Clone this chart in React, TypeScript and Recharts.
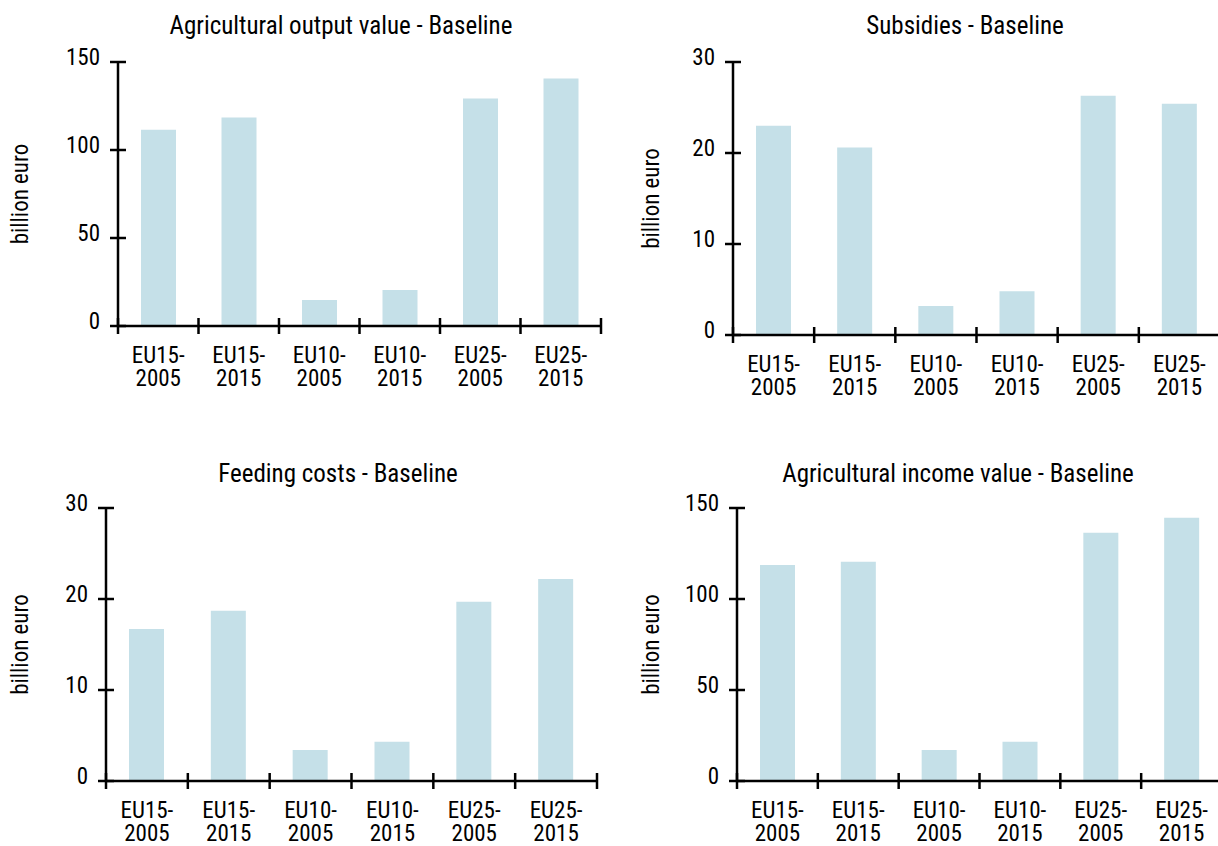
import { BarChart, Bar, XAxis, YAxis } from 'recharts';

// categories on the x axis (split at the dash into two lines)
const CATEGORIES = ['EU15-2005', 'EU15-2015', 'EU10-2005', 'EU10-2015', 'EU25-2005', 'EU25-2015'];

// values in billion euro
const OUTPUT_VALUE = [111.5, 118.4, 14.8, 20.5, 129.2, 140.6];
const SUBSIDIES = [23.0, 20.6, 3.2, 4.8, 26.3, 25.4];
const FEEDING_COSTS = [16.7, 18.7, 3.4, 4.3, 19.7, 22.2];
const INCOME_VALUE = [118.7, 120.4, 17.1, 21.5, 136.4, 144.7];

const TICKS_150 = [0, 50, 100, 150];
const TICKS_30 = [0, 10, 20, 30];

const FONT = "'Liberation Sans Narrow', 'Arial Narrow', 'Roboto Condensed', sans-serif";
const BAR_COLOR = '#c5e0e8';
const FONT_SIZE = 23;
const TOP_PAD = 20;

interface PanelProps {
  title: string;
  values: number[];
  ticks: number[];
  left: number; // svg left on page
  axisX: number; // page x of the y axis
  plotTop: number;
  plotWidth: number;
  plotHeight: number;
  labelX: number;
  titleX: number;
  titleY: number;
}

const Panel = (p: PanelProps) => {
  const data = CATEGORIES.map((name, i) => ({ name, value: p.values[i] }));
  const yWidth = p.axisX - p.left;
  const band = p.plotWidth / CATEGORIES.length;
  const top = p.plotTop - TOP_PAD;
  const width = yWidth + p.plotWidth + 4;
  const height = p.plotHeight + TOP_PAD + 75;

  const XTick = (props: any) => {
    const { x, y, payload, index } = props;
    const [a, b] = String(payload.value).split('-');
    return (
      <g>
        <line x1={x - band / 2} x2={x - band / 2} y1={y - 8} y2={y + 8} stroke="#000" strokeWidth={2.5} />
        {index === CATEGORIES.length - 1 && (
          <line x1={x + band / 2} x2={x + band / 2} y1={y - 8} y2={y + 8} stroke="#000" strokeWidth={2.5} />
        )}
        <text x={x} y={y + 37} textAnchor="middle" fontFamily={FONT} fontSize={FONT_SIZE} fill="#000">
          {a + '-'}
        </text>
        <text x={x} y={y + 60} textAnchor="middle" fontFamily={FONT} fontSize={FONT_SIZE} fill="#000">
          {b}
        </text>
      </g>
    );
  };

  const YTick = (props: any) => {
    const { x, y, payload } = props;
    return (
      <g>
        <line x1={x - 8} x2={x + 8} y1={y} y2={y} stroke="#000" strokeWidth={2.5} />
        <text x={x - 18} y={y + 3} textAnchor="end" fontFamily={FONT} fontSize={FONT_SIZE} fill="#000">
          {payload.value}
        </text>
      </g>
    );
  };

  return (
    <>
      <div
        style={{
          position: 'absolute',
          left: p.titleX,
          top: p.titleY - 21,
          transform: 'translateX(-50%)',
          whiteSpace: 'nowrap',
          fontFamily: FONT,
          fontSize: 25,
          lineHeight: '28px',
          color: '#000',
        }}
      >
        {p.title}
      </div>
      <div style={{ position: 'absolute', left: p.left, top }}>
        <BarChart width={width} height={height} data={data} margin={{ top: TOP_PAD, right: 4, bottom: 0, left: 0 }}>
          <XAxis
            dataKey="name"
            interval={0}
            tickLine={false}
            tickSize={0}
            tickMargin={0}
            height={75}
            axisLine={{ stroke: '#000', strokeWidth: 2.5 }}
            tick={<XTick />}
          />
          <YAxis
            domain={[0, p.ticks[p.ticks.length - 1]]}
            ticks={p.ticks}
            width={yWidth}
            tickLine={false}
            tickSize={0}
            tickMargin={0}
            axisLine={{ stroke: '#000', strokeWidth: 2.5 }}
            tick={<YTick />}
            label={{
              value: 'billion euro',
              angle: -90,
              position: 'insideLeft',
              offset: p.labelX - p.left,
              style: { textAnchor: 'middle', fontFamily: FONT, fontSize: FONT_SIZE, fill: '#000' },
            }}
          />
          <Bar dataKey="value" fill={BAR_COLOR} barSize={35} isAnimationActive={false} />
        </BarChart>
      </div>
    </>
  );
};

export default function App() {
  return (
    <div
      style={{
        position: 'absolute',
        left: 0,
        top: 0,
        width: 1218,
        height: 846,
        overflow: 'hidden',
        background: '#fff',
      }}
    >
      <Panel
        title="Agricultural output value - Baseline"
        values={OUTPUT_VALUE}
        ticks={TICKS_150}
        left={0}
        axisX={118}
        plotTop={62}
        plotWidth={483}
        plotHeight={264}
        labelX={20}
        titleX={341}
        titleY={33}
      />
      <Panel
        title="Subsidies - Baseline"
        values={SUBSIDIES}
        ticks={TICKS_30}
        left={620}
        axisX={733}
        plotTop={62}
        plotWidth={487}
        plotHeight={273}
        labelX={651}
        titleX={965}
        titleY={33}
      />
      <Panel
        title="Feeding costs - Baseline"
        values={FEEDING_COSTS}
        ticks={TICKS_30}
        left={0}
        axisX={106}
        plotTop={508}
        plotWidth={491}
        plotHeight={273}
        labelX={20}
        titleX={338}
        titleY={481}
      />
      <Panel
        title="Agricultural income value - Baseline"
        values={INCOME_VALUE}
        ticks={TICKS_150}
        left={620}
        axisX={737}
        plotTop={508}
        plotWidth={485}
        plotHeight={273}
        labelX={651}
        titleX={958}
        titleY={481}
      />
    </div>
  );
}
